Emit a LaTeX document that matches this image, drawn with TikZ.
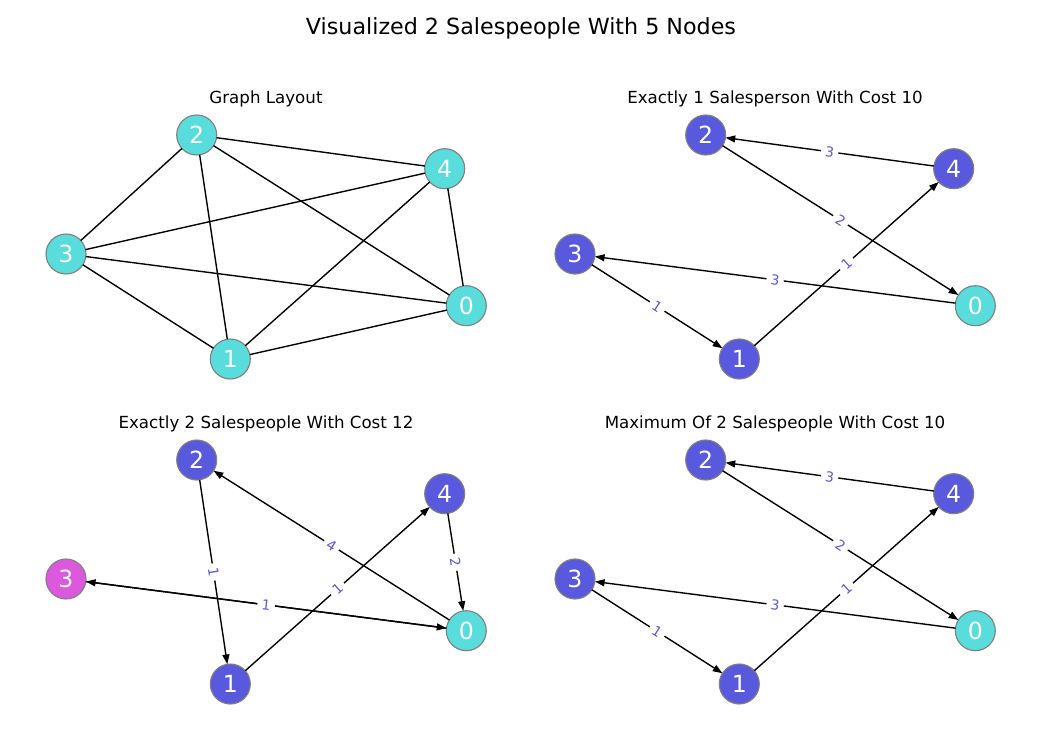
\documentclass[tikz,border=0pt]{standalone}
\usepackage{fontspec}
\setmainfont{DejaVu Sans}
\usetikzlibrary{arrows.meta}
\definecolor{ncyan}{HTML}{58DCDC}
\definecolor{nblue}{HTML}{5959DD}
\definecolor{nmag}{HTML}{DC58DC}
\definecolor{nborder}{HTML}{808080}
\tikzset{
  vert/.style={circle, draw=nborder, line width=0.8bp, minimum size=28.8bp, inner sep=0pt, outer sep=0pt, text=white, font=\fontsize{17bp}{17bp}\selectfont},
  cyanv/.style={vert, fill=ncyan},
  bluev/.style={vert, fill=nblue},
  magv/.style={vert, fill=nmag},
  edgeline/.style={black, line width=1bp},
  arcline/.style={edgeline, -{Triangle[length=7bp,width=5bp]}},
  elabel/.style={midway, sloped, fill=white, inner xsep=3bp, inner ysep=1.5bp, text=nblue, font=\fontsize{10bp}{10bp}\selectfont},
  ptitle/.style={anchor=base, font=\fontsize{12bp}{12bp}\selectfont},
  mtitle/.style={anchor=base, font=\fontsize{16bp}{16bp}\selectfont},
}
\begin{document}
\begin{tikzpicture}[x=0.72bp, y=-0.72bp]
\useasboundingbox (0,0) rectangle (1042,731);
\fill[white] (0,0) rectangle (1042,731);
\node[mtitle] (main) at (521,34) {Visualized 2 Salespeople With 5 Nodes};

% ---------- Panel A: Graph Layout ----------
\node[ptitle] (ta) at (266,103) {Graph Layout};
\node[cyanv] (a0) at (466.3,305.7) {0};
\node[cyanv] (a1) at (230.3,359) {1};
\node[cyanv] (a2) at (196.7,135) {2};
\node[cyanv] (a3) at (66,254) {3};
\node[cyanv] (a4) at (444.7,168.7) {4};
\draw[edgeline] (a2) -- (a3);
\draw[edgeline] (a2) -- (a1);
\draw[edgeline] (a2) -- (a4);
\draw[edgeline] (a2) -- (a0);
\draw[edgeline] (a4) -- (a3);
\draw[edgeline] (a4) -- (a1);
\draw[edgeline] (a4) -- (a0);
\draw[edgeline] (a3) -- (a1);
\draw[edgeline] (a3) -- (a0);
\draw[edgeline] (a1) -- (a0);

% ---------- Panel B: Exactly 1 Salesperson ----------
\begin{scope}[shift={(509,0)}]
\node[ptitle] (tb) at (266,103) {Exactly 1 Salesperson With Cost 10};
\node[cyanv] (b0) at (466.3,305.7) {0};
\node[bluev] (b1) at (230.3,359) {1};
\node[bluev] (b2) at (196.7,135) {2};
\node[bluev] (b3) at (66,254) {3};
\node[bluev] (b4) at (444.7,168.7) {4};
\draw[arcline] (b4) -- (b2);
\draw[arcline] (b2) -- (b0);
\draw[arcline] (b0) -- (b3);
\draw[arcline] (b3) -- (b1);
\draw[arcline] (b1) -- (b4);
\path (b4) -- node[elabel] {3} (b2);
\path (b2) -- node[elabel] {2} (b0);
\path (b0) -- node[elabel] {3} (b3);
\path (b3) -- node[elabel] {1} (b1);
\path (b1) -- node[elabel] {1} (b4);
\end{scope}

% ---------- Panel C: Exactly 2 Salespeople ----------
\begin{scope}[shift={(0,325)}]
\node[ptitle] (tc) at (266,103) {Exactly 2 Salespeople With Cost 12};
\node[cyanv] (c0) at (466.3,305.7) {0};
\node[bluev] (c1) at (230.3,359) {1};
\node[bluev] (c2) at (196.7,135) {2};
\node[magv] (c3) at (66,254) {3};
\node[bluev] (c4) at (444.7,168.7) {4};
\draw[arcline] (c2) -- (c1);
\draw[arcline] (c1) -- (c4);
\draw[arcline] (c4) -- (c0);
\draw[arcline] (c0) -- (c2);
\draw[arcline] (c0) -- (c3);
\draw[arcline] (c3) -- (c0);
\path (c2) -- node[elabel] {1} (c1);
\path (c1) -- node[elabel] {1} (c4);
\path (c4) -- node[elabel] {2} (c0);
\path (c0) -- node[elabel] {4} (c2);
\path (c0) -- node[elabel] {1} (c3);
\path (c3) -- node[elabel] {1} (c0);
\end{scope}

% ---------- Panel D: Maximum Of 2 Salespeople ----------
\begin{scope}[shift={(509,325)}]
\node[ptitle] (td) at (266,103) {Maximum Of 2 Salespeople With Cost 10};
\node[cyanv] (d0) at (466.3,305.7) {0};
\node[bluev] (d1) at (230.3,359) {1};
\node[bluev] (d2) at (196.7,135) {2};
\node[bluev] (d3) at (66,254) {3};
\node[bluev] (d4) at (444.7,168.7) {4};
\draw[arcline] (d4) -- (d2);
\draw[arcline] (d2) -- (d0);
\draw[arcline] (d0) -- (d3);
\draw[arcline] (d3) -- (d1);
\draw[arcline] (d1) -- (d4);
\path (d4) -- node[elabel] {3} (d2);
\path (d2) -- node[elabel] {2} (d0);
\path (d0) -- node[elabel] {3} (d3);
\path (d3) -- node[elabel] {1} (d1);
\path (d1) -- node[elabel] {1} (d4);
\end{scope}
\end{tikzpicture}
\end{document}
